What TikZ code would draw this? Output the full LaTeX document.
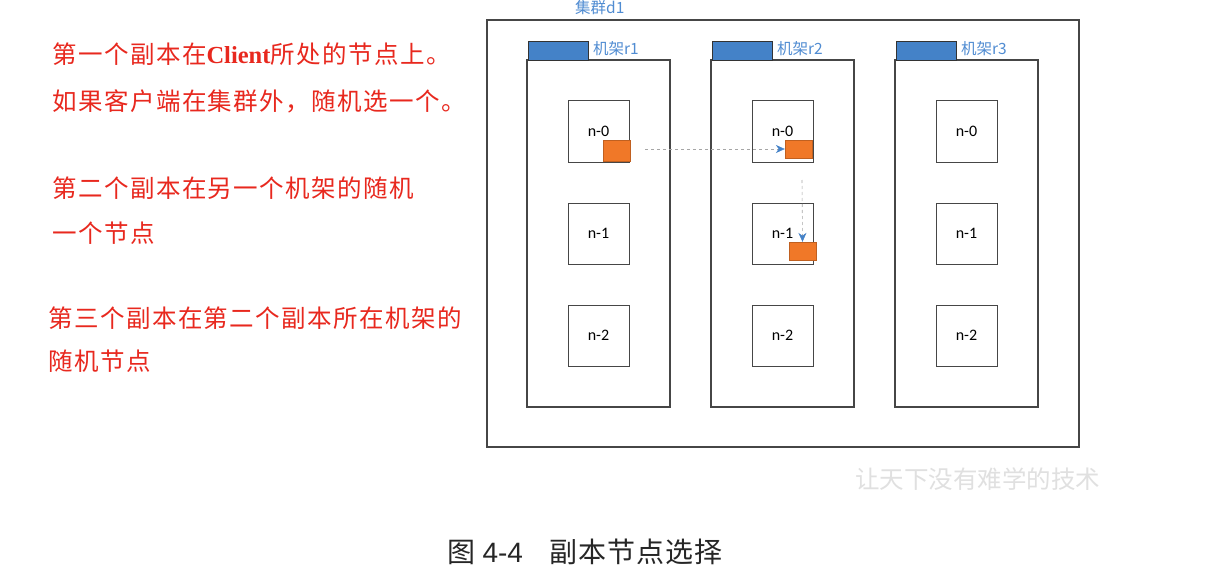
\documentclass[tikz,border=0pt]{standalone}
\usepackage{fontspec}
\setmainfont{Carlito}
\newfontfamily\cjk{Noto Sans CJK SC}
\newfontfamily\cjkwide{Noto Sans CJK SC}[LetterSpace=6]
\newfontfamily\cjkcap{Noto Sans CJK SC}[LetterSpace=4]
\newfontfamily\serifb{Liberation Serif}
\usetikzlibrary{arrows.meta}
\definecolor{txtred}{RGB}{232,40,30}
\definecolor{hdrblue}{RGB}{68,130,200}
\definecolor{lblblue}{RGB}{80,140,210}
\definecolor{repor}{RGB}{240,120,40}
\definecolor{framegray}{RGB}{70,70,70}
\tikzset{
  cluster/.style={draw=framegray,line width=1.2pt},
  rack/.style={draw=framegray,line width=1.1pt},
  header/.style={draw=black!80,fill=hdrblue,line width=0.8pt},
  dn/.style={draw=framegray,line width=1pt,minimum width=61pt,minimum height=61pt,inner sep=0pt,font=\fontsize{16}{18}\selectfont},
  replica/.style={fill=repor,draw=repor!80!black,line width=0.3pt},
  lbl/.style={text=lblblue,font=\cjk\fontsize{15.5}{17}\selectfont,anchor=west,inner sep=0pt},
  note/.style={text=txtred,font=\cjkwide\fontsize{24.5}{28}\selectfont,anchor=west,inner sep=0pt},
  flow/.style={draw=black!35,dashed,line width=0.6pt,-{Stealth[length=9pt,width=8pt,color=hdrblue,fill=hdrblue]}},
}
\begin{document}
\begin{tikzpicture}[x=1pt,y=-1pt]
\useasboundingbox[fill=white] (0,0) rectangle (1219,586);
% cluster
\draw[cluster] (487,20) rectangle (1079,447);
\node[lbl] (cl) at (575,8) {集群d1};
% racks
\foreach \r/\x in {1/527,2/711,3/895}{
  \draw[rack] (\x,60) rectangle ++(143,347);
  \draw[header] (\x+1,41) rectangle ++(60,19);
  \node[lbl] (rl\r) at (\x+66,49) {机架r\r};
}
% data nodes
\foreach \r/\x in {1/598.5,2/782.5,3/966.5}{
  \node[dn] (n0r\r) at (\x,131.5) {n-0};
  \node[dn] (n1r\r) at (\x,233.5) {n-1};
  \node[dn] (n2r\r) at (\x,335.5) {n-2};
}
% replicas
\node[replica,minimum width=27pt,minimum height=21pt,inner sep=0pt] (rep1) at (616.5,150.5) {};
\node[replica,minimum width=27pt,minimum height=18pt,inner sep=0pt] (rep2) at (798.5,149) {};
\node[replica,minimum width=27pt,minimum height=18pt,inner sep=0pt] (rep3) at (802.5,251) {};
% flows
\coordinate (s1) at (645,149);
\draw[flow] (s1) -- (rep2.west);
\coordinate (s2) at (802,180);
\draw[flow] (s2) -- (rep3.north);
% left notes
\node[note] (t1) at (52,54) {第一个副本在{\serifb\bfseries Client}所处的节点上。};
\node[note] (t2) at (52,101) {如果客户端在集群外，随机选一个。};
\node[note] (t3) at (52,188) {第二个副本在另一个机架的随机};
\node[note] (t4) at (52,233) {一个节点};
\node[note] (t5) at (48,318) {第三个副本在第二个副本所在机架的};
\node[note] (t6) at (48,361) {随机节点};
% watermark
\node[text=black!12,font=\cjk\fontsize{24.5}{27}\selectfont,anchor=west,inner sep=0pt] (wm) at (855,479) {让天下没有难学的技术};
% caption
\node[text=black!85,font=\cjkcap\fontsize{28}{32}\selectfont,anchor=west,inner sep=0pt] (cap) at (447,552) {图 {\fontspec{Liberation Sans}4-4}\hspace{26pt}副本节点选择};
\end{tikzpicture}
\end{document}
